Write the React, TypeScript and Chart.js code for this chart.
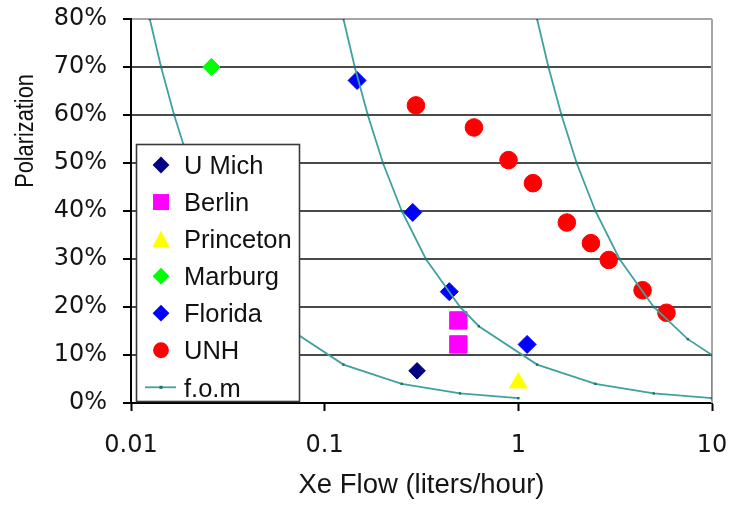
import React, { useEffect, useRef } from 'react';
import { Chart, registerables } from 'chart.js';

Chart.register(...registerables);

// Axis ticks
const xTickValues = [0.01, 0.1, 1, 10];
const xTickLabels = ['0.01', '0.1', '1', '10'];
const yTickValues = [0, 0.1, 0.2, 0.3, 0.4, 0.5, 0.6, 0.7, 0.8];
const yTickLabels = ['0%', '10%', '20%', '30%', '40%', '50%', '60%', '70%', '80%'];

// Measurements: Xe flow (liters/hour) and polarization
const uMichFlow = [0.3];
const uMichPol = [0.067];
const berlinFlow = [0.49, 0.49];
const berlinPol = [0.172, 0.122];
const princetonFlow = [1.0];
const princetonPol = [0.042];
const marburgFlow = [0.026];
const marburgPol = [0.70];
const floridaFlow = [0.147, 0.285, 0.44, 1.11];
const floridaPol = [0.672, 0.397, 0.232, 0.122];
const unhFlow = [0.296, 0.59, 0.89, 1.19, 1.78, 2.37, 2.93, 4.38, 5.82];
const unhPol = [0.62, 0.574, 0.506, 0.458, 0.376, 0.333, 0.298, 0.235, 0.188];

// Figure-of-merit contours, drawn as one continuous polyline
const fomFlow = [
  1, 0.5, 0.25, 0.125, 0.0625, 0.05, 0.033, 0.025, 0.02, 0.0167, 0.0143, 0.0125,
  0.125, 0.143, 0.167, 0.2, 0.25, 0.333, 0.5, 0.625, 1.25, 2.5, 5, 10,
  10, 7.5, 5, 3.33, 2.5, 2, 1.67, 1.43, 1.25,
];
const fomPol = [
  0.01, 0.02, 0.04, 0.08, 0.16, 0.2, 0.3, 0.4, 0.5, 0.6, 0.7, 0.8,
  0.8, 0.7, 0.6, 0.5, 0.4, 0.3, 0.2, 0.16, 0.08, 0.04, 0.02, 0.01,
  0.1, 0.133, 0.2, 0.3, 0.4, 0.5, 0.6, 0.7, 0.8,
];

const TEAL = '#3fa29e';
const FONT = "'Liberation Sans', Arial, sans-serif";

const pts = (xs: number[], ys: number[]) => xs.map((x, i) => ({ x, y: ys[i] }));

type Marker = 'diamond' | 'square' | 'triangle' | 'circle' | 'line';

const legendMarkers: Record<string, Marker> = {
  'U Mich': 'diamond',
  Berlin: 'square',
  Princeton: 'triangle',
  Marburg: 'diamond',
  Florida: 'diamond',
  UNH: 'circle',
  'f.o.m': 'line',
};

function drawLegendMarker(ctx: CanvasRenderingContext2D, kind: Marker, color: string, x: number, y: number) {
  ctx.save();
  ctx.fillStyle = color;
  ctx.strokeStyle = color;
  ctx.beginPath();
  if (kind === 'diamond') {
    const r = 8.4;
    ctx.moveTo(x, y - r);
    ctx.lineTo(x + r, y);
    ctx.lineTo(x, y + r);
    ctx.lineTo(x - r, y);
    ctx.closePath();
    ctx.fill();
  } else if (kind === 'square') {
    ctx.rect(x - 8, y - 8, 16, 16);
    ctx.fill();
  } else if (kind === 'triangle') {
    ctx.moveTo(x, y - 8.7);
    ctx.lineTo(x + 8.7, y + 8.3);
    ctx.lineTo(x - 8.7, y + 8.3);
    ctx.closePath();
    ctx.fill();
  } else if (kind === 'circle') {
    ctx.arc(x, y, 7.9, 0, Math.PI * 2);
    ctx.fill();
  } else {
    ctx.lineWidth = 1.8;
    ctx.moveTo(x - 16, y);
    ctx.lineTo(x + 15, y);
    ctx.stroke();
    ctx.fillStyle = '#1f6f6c';
    ctx.fillRect(x - 1.5, y - 1.5, 3, 3);
  }
  ctx.restore();
}

// Boxed legend sitting inside the plot area
const insetLegend = {
  id: 'insetLegend',
  afterDatasetsDraw(chart: any) {
    const ctx: CanvasRenderingContext2D = chart.ctx;
    const left = 136.5;
    const top = 144.5;
    const right = 299.5;
    const bottom = 401.5;
    ctx.save();
    ctx.fillStyle = '#ffffff';
    ctx.fillRect(left, top, right - left, bottom - top);
    ctx.strokeStyle = '#3a3a3a';
    ctx.lineWidth = 1.6;
    ctx.strokeRect(left, top, right - left, bottom - top);
    ctx.font = `25.5px ${FONT}`;
    ctx.textAlign = 'left';
    ctx.textBaseline = 'alphabetic';
    chart.data.datasets.forEach((ds: any, i: number) => {
      const cy = 165 + i * 37.05;
      const kind = legendMarkers[ds.label];
      const color = kind === 'line' ? ds.borderColor : ds.backgroundColor;
      drawLegendMarker(ctx, kind, color, 161, cy);
      ctx.fillStyle = '#111111';
      ctx.fillText(ds.label, 184, cy + 9.2);
    });
    ctx.restore();
  },
};

// Right-hand frame edge of the plot area
const plotFrame = {
  id: 'plotFrame',
  beforeDatasetsDraw(chart: any) {
    const { ctx, chartArea } = chart;
    ctx.save();
    ctx.strokeStyle = '#a6a6a6';
    ctx.lineWidth = 2;
    ctx.beginPath();
    ctx.moveTo(chartArea.right, chartArea.top);
    ctx.lineTo(chartArea.right, chartArea.bottom);
    ctx.stroke();
    ctx.restore();
  },
};

// Vertical y-axis caption (slightly condensed along its length)
const yCaption = {
  id: 'yCaption',
  afterDraw(chart: any) {
    const ctx: CanvasRenderingContext2D = chart.ctx;
    ctx.save();
    ctx.translate(33, 131);
    ctx.rotate(-Math.PI / 2);
    ctx.scale(0.87, 1);
    ctx.font = `25px ${FONT}`;
    ctx.fillStyle = '#111111';
    ctx.textAlign = 'center';
    ctx.textBaseline = 'alphabetic';
    ctx.fillText('Polarization', 0, 0);
    ctx.restore();
  },
};

export default function App() {
  const canvasRef = useRef<HTMLCanvasElement | null>(null);

  useEffect(() => {
    if (!canvasRef.current) return;
    const chart = new Chart(canvasRef.current, {
      type: 'scatter',
      data: {
        datasets: [
          {
            label: 'U Mich',
            data: pts(uMichFlow, uMichPol),
            pointStyle: 'rectRot',
            pointRadius: 8.3,
            backgroundColor: '#000080',
            borderColor: '#000080',
            borderWidth: 1,
            order: 6,
          },
          {
            label: 'Berlin',
            data: pts(berlinFlow, berlinPol),
            pointStyle: 'rect',
            pointRadius: 12.3,
            backgroundColor: '#ff00ff',
            borderColor: '#ff00ff',
            borderWidth: 1,
            order: 5,
          },
          {
            label: 'Princeton',
            data: pts(princetonFlow, princetonPol),
            pointStyle: 'triangle',
            pointRadius: 10.2,
            backgroundColor: '#ffff00',
            borderColor: '#ffff00',
            borderWidth: 1,
            order: 4,
          },
          {
            label: 'Marburg',
            data: pts(marburgFlow, marburgPol),
            pointStyle: 'rectRot',
            pointRadius: 8.6,
            backgroundColor: '#00ff00',
            borderColor: '#00ff00',
            borderWidth: 1,
            order: 3,
          },
          {
            label: 'Florida',
            data: pts(floridaFlow, floridaPol),
            pointStyle: 'rectRot',
            pointRadius: 9,
            backgroundColor: '#0000ff',
            borderColor: '#0000ff',
            borderWidth: 1,
            order: 2,
          },
          {
            label: 'UNH',
            data: pts(unhFlow, unhPol),
            pointStyle: 'circle',
            pointRadius: 8.8,
            backgroundColor: '#ff0000',
            borderColor: '#ff0000',
            borderWidth: 1,
            order: 1,
          },
          {
            label: 'f.o.m',
            data: pts(fomFlow, fomPol),
            showLine: true,
            borderColor: TEAL,
            backgroundColor: TEAL,
            borderWidth: 1.8,
            pointStyle: 'rect',
            pointRadius: 1.7,
            pointBackgroundColor: '#1f6f6c',
            pointBorderColor: '#1f6f6c',
            pointBorderWidth: 0,
            tension: 0,
            order: 0,
          },
        ],
      },
      options: {
        animation: false,
        responsive: false,
        devicePixelRatio: 1,
        layout: { padding: { top: 19, right: 19, left: 0, bottom: 0 } },
        plugins: {
          legend: { display: false },
          tooltip: { enabled: false },
        },
        scales: {
          x: {
            type: 'logarithmic',
            min: 0.01,
            max: 10,
            afterBuildTicks: (scale: any) => {
              scale.ticks = xTickValues.map((v) => ({ value: v }));
            },
            afterFit: (scale: any) => {
              scale.height = 111;
              scale.paddingLeft = 0;
              scale.paddingRight = 0;
              scale.paddingTop = 0;
              scale.paddingBottom = 0;
            },
            ticks: {
              autoSkip: false,
              maxRotation: 0,
              padding: 20,
              color: '#151515',
              font: { family: "'DejaVu Sans', sans-serif", size: 24 },
              callback: (_v: any, i: number) => xTickLabels[i],
            },
            grid: {
              drawOnChartArea: false,
              drawTicks: true,
              tickLength: 8,
              tickColor: '#000000',
              tickWidth: 2,
            },
            border: { color: '#000000', width: 2 },
            title: {
              display: true,
              text: 'Xe Flow (liters/hour)',
              color: '#151515',
              font: { family: FONT, size: 27.5 },
              padding: { top: 0, bottom: 12 },
            },
          },
          y: {
            type: 'linear',
            min: 0,
            max: 0.8,
            afterBuildTicks: (scale: any) => {
              scale.ticks = yTickValues.map((v) => ({ value: v }));
            },
            afterFit: (scale: any) => {
              scale.width = 131;
              scale.paddingLeft = 0;
              scale.paddingRight = 0;
              scale.paddingTop = 0;
              scale.paddingBottom = 0;
            },
            ticks: {
              autoSkip: false,
              padding: 16,
              color: '#151515',
              font: { family: "'DejaVu Sans', sans-serif", size: 24 },
              callback: (_v: any, i: number) => yTickLabels[i],
            },
            grid: {
              color: (c: any) => (c.tick && c.tick.value === 0.8 ? '#a6a6a6' : c.tick && c.tick.value === 0 ? '#000000' : '#4a4a4a'),
              lineWidth: 2,
              drawTicks: true,
              tickLength: 8,
              tickColor: '#000000',
              tickWidth: 2,
            },
            border: { color: '#000000', width: 2 },
          },
        },
      } as any,
      plugins: [plotFrame, insetLegend, yCaption],
    });
    return () => chart.destroy();
  }, []);

  return (
    <div style={{ position: 'absolute', left: 0, top: 0, width: 731, height: 514, background: '#ffffff' }}>
      <canvas ref={canvasRef} width={731} height={514} style={{ display: 'block' }} />
    </div>
  );
}
